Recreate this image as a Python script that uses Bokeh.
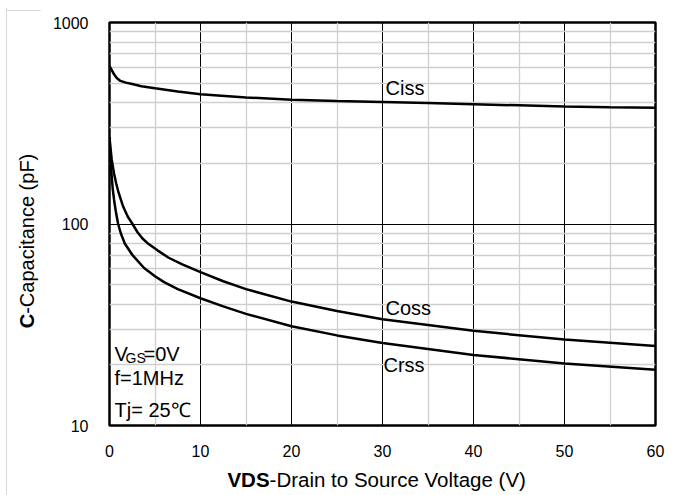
from bokeh.plotting import figure
from bokeh.models import FixedTicker, Label, Div
from bokeh.layouts import row, column
from bokeh.embed import file_html
from bokeh.resources import INLINE

# ---- data ----
ciss_v = [0, 0.25, 0.5, 0.8, 1.2, 1.8, 2.5, 3.5, 5, 7.5, 10, 15, 20, 25, 30, 35, 40, 45, 50, 55, 60]
ciss_c = [608, 580, 553, 530, 513, 503, 495, 483, 472, 455, 440, 425, 414, 408, 403, 398, 393, 388, 383, 380, 378]

coss_v = [0, 0.1, 0.25, 0.5, 0.75, 1, 1.5, 2, 2.53, 3.08, 3.6, 4.3, 5.27, 6.5, 8, 10, 12.5, 15, 20, 25, 30, 40, 50, 60]
coss_c = [270, 240, 208, 178, 158, 143, 122, 109, 100, 91, 85, 79.5, 74, 68, 63, 57.7, 52, 47.5, 41.2, 37, 33.7, 29.5, 26.7, 24.8]

crss_v = [0, 0.1, 0.2, 0.35, 0.5, 0.7, 0.95, 1.24, 1.68, 2.53, 3.8, 5, 6, 7.5, 10, 12.5, 15, 20, 25, 30, 40, 50, 60]
crss_c = [270, 215, 182, 150, 132, 115, 100, 90, 80, 70, 60.5, 55, 51.5, 47.5, 42.8, 39, 35.8, 31.1, 28, 25.7, 22.4, 20.3, 18.9]

x_ticks = [0, 10, 20, 30, 40, 50, 60]
x_minor = [5, 15, 25, 35, 45, 55]
y_ticks = [10, 100, 1000]
y_minor = [20, 30, 40, 50, 60, 70, 80, 90, 200, 300, 400, 500, 600, 700, 800, 900]

x_title_bold, x_title_rest = "VDS", "-Drain to Source Voltage (V)"
y_title_bold, y_title_rest = "C", "-Capacitance (pF)"

FONT = "Liberation Sans"

# ---- page layout (pixels) ----
PAGE_W, PAGE_H = 680, 495
TOP_H = 8            # strip above the figure (carries the thin page border)
YT_W = 40            # column left of the figure holding the y title
XT_H = 28            # strip below the figure holding the x title
FIG_W = PAGE_W - YT_W
FIG_H = PAGE_H - TOP_H - XT_H
L, R, T, B = 109, 655, 22, 425   # plot frame in page pixels
FW, FH = R - L, B - T


def dx(px):
    return (px - L) / FW * 60.0


def dy(py):
    return 10 ** (3 - 2.0 * (py - T) / FH)


p = figure(width=FIG_W, height=FIG_H, x_range=(0, 60), y_range=(10, 1000), y_axis_type="log",
           output_backend="svg", toolbar_location=None, margin=0,
           min_border_left=L - YT_W, min_border_right=PAGE_W - R,
           min_border_top=T - TOP_H, min_border_bottom=TOP_H + FIG_H - B)
p.background_fill_color = "white"
p.border_fill_color = "white"
p.outline_line_color = "black"
p.outline_line_width = 2.5

xt = FixedTicker(ticks=x_ticks, minor_ticks=x_minor)
yt = FixedTicker(ticks=y_ticks, minor_ticks=y_minor)
p.xaxis.ticker = xt
p.yaxis.ticker = yt
p.xgrid.ticker = xt
p.ygrid.ticker = yt

for g in (p.xgrid, p.ygrid):
    g.grid_line_color = "black"
    g.grid_line_width = 1
    g.minor_grid_line_color = "#cfcfcf"
    g.minor_grid_line_width = 1.3

for ax in (p.xaxis, p.yaxis):
    ax.axis_line_color = None
    ax.major_tick_line_color = None
    ax.minor_tick_line_color = None
    ax.major_tick_out = 0
    ax.major_tick_in = 0
    ax.minor_tick_out = 0
    ax.minor_tick_in = 0
    ax.major_label_text_font = FONT
    ax.major_label_text_font_size = "16px"
    ax.major_label_text_color = "black"
p.xaxis.major_label_standoff = 19
p.yaxis.major_label_standoff = 21
p.yaxis.major_label_overrides = {10: "10", 100: "100", 1000: "1000"}

for v, c in ((ciss_v, ciss_c), (coss_v, coss_c), (crss_v, crss_c)):
    p.line(v, c, line_width=2.5, line_color="black")


def lab(text, px, py, size="20px"):
    p.add_layout(Label(x=dx(px), y=dy(py), text=text, text_font=FONT,
                       text_font_size=size, text_color="black",
                       text_align="left", text_baseline="middle"))


# curve names
lab("Ciss", 385, 87)
lab("Coss", 385, 307)
lab("Crss", 383, 364)
# test conditions
lab("V", 114, 353)
lab("GS", 125, 357, size="14px")
lab("=0V", 143, 353)
lab("f=1MHz", 114, 377)
lab("Tj= 25\u2103", 114, 409)

TXT = "font-family:'Liberation Sans';font-size:20px;color:black;white-space:nowrap;line-height:1;"
BORDER = "#d9d9d9"

top_div = Div(width=PAGE_W, height=TOP_H, margin=0, text=(
    f'<div style="position:relative;width:{PAGE_W}px;height:{TOP_H}px;overflow:hidden">'
    f'<div style="position:absolute;left:6px;top:6px;width:{PAGE_W}px;height:0;'
    f'border-top:1px solid {BORDER}"></div></div>'))

ytitle_cx, ytitle_cy = 26.7, 241 - TOP_H
y_div = Div(width=YT_W, height=FIG_H + XT_H, margin=0, text=(
    f'<div style="position:relative;width:{YT_W}px;height:{FIG_H + XT_H}px;overflow:hidden">'
    f'<div style="position:absolute;left:6px;top:0;width:0;height:{FIG_H + XT_H}px;'
    f'border-left:1px solid {BORDER}"></div>'
    f'<div style="position:absolute;left:{ytitle_cx}px;top:{ytitle_cy}px;{TXT}'
    f'transform:translate(-50%,-50%) rotate(-90deg)">'
    f'<b>{y_title_bold}</b>{y_title_rest}</div></div>'))

xtitle_cx, xtitle_cy = 376.7 - YT_W, 480 - TOP_H - FIG_H
x_div = Div(width=FIG_W, height=XT_H, margin=0, text=(
    f'<div style="position:relative;width:{FIG_W}px;height:{XT_H}px;overflow:hidden">'
    f'<div style="position:absolute;left:{xtitle_cx}px;top:{xtitle_cy}px;{TXT}'
    f'font-size:20.5px;transform:translate(-50%,-50%)">'
    f'<b>{x_title_bold}</b>{x_title_rest}</div></div>'))

page = column(top_div, row(y_div, column(p, x_div, spacing=0, margin=0), spacing=0, margin=0),
              spacing=0, margin=0)

open("out.html", "w").write(file_html(page, INLINE))
